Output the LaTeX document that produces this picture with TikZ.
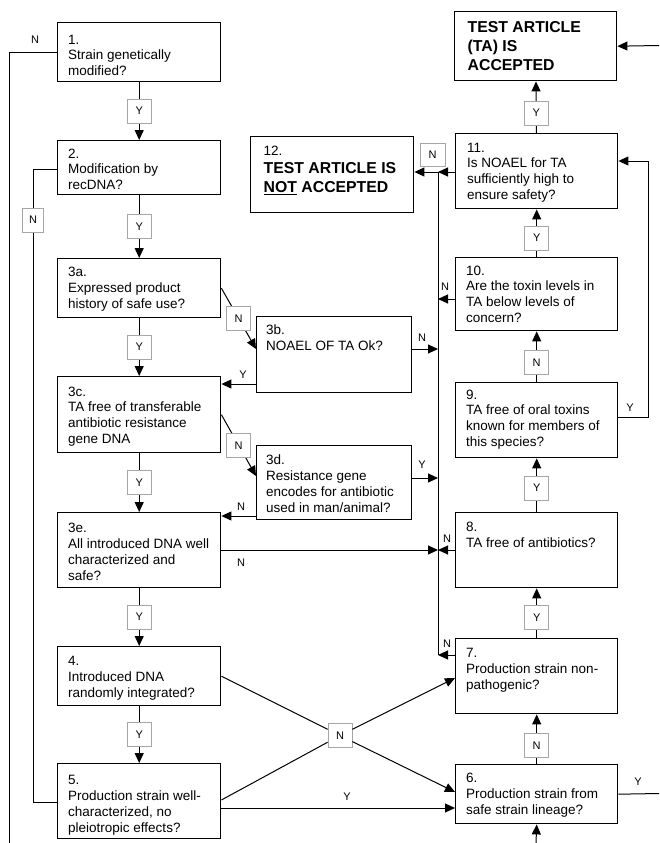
\documentclass[tikz,border=0pt]{standalone}
\usepackage{fontspec}
\setmainfont{Liberation Sans}
\usetikzlibrary{arrows.meta}
\newcommand\fst{\rule{0pt}{11pt}}
\newcommand\fsb{\rule{0pt}{13pt}}
\begin{document}
\begin{tikzpicture}[x=1pt,y=-1pt,
  bx/.style={draw, line width=1.4pt, inner sep=0, anchor=north west},
  tx/.style={anchor=north west, inner sep=0, align=left, font=\fontsize{13.5}{15.7}\selectfont},
  tb/.style={anchor=north west, inner sep=0, align=left, font=\bfseries\fontsize{15.8}{19}\selectfont},
  yn/.style={draw=gray!70, line width=0.7pt, fill=white, minimum width=24pt, minimum height=24pt, inner sep=0, font=\fontsize{11}{12}\selectfont},
  lbl/.style={inner sep=0, font=\fontsize{11}{12}\selectfont},
  ln/.style={line width=1pt},
  arr/.style={line width=1pt, -{Triangle[length=10pt,width=9pt]}},
]
\useasboundingbox (0,0) rectangle (659,843);

% boxes
\node[bx, minimum width=162pt, minimum height=69pt] (acc) at (454,11) {};
\node[bx, minimum width=162pt, minimum height=75pt] (b11) at (455,133) {};
\node[bx, minimum width=163pt, minimum height=76pt] (b12) at (250,136) {};
\node[bx, minimum width=162pt, minimum height=73pt] (b10) at (455,257) {};
\node[bx, minimum width=162pt, minimum height=75pt] (b9) at (455,382) {};
\node[bx, minimum width=162pt, minimum height=75pt] (b8) at (455,512) {};
\node[bx, minimum width=162pt, minimum height=75pt] (b7) at (455,638) {};
\node[bx, minimum width=162pt, minimum height=59pt] (b6) at (455,764) {};
\node[bx, minimum width=163pt, minimum height=59pt] (b1) at (57,22) {};
\node[bx, minimum width=163pt, minimum height=54pt] (b2) at (57,140) {};
\node[bx, minimum width=163pt, minimum height=59pt] (b3a) at (57,258) {};
\node[bx, minimum width=155pt, minimum height=76pt] (b3b) at (256,316) {};
\node[bx, minimum width=163pt, minimum height=76pt] (b3c) at (57,376) {};
\node[bx, minimum width=155pt, minimum height=74pt] (b3d) at (256,445) {};
\node[bx, minimum width=163pt, minimum height=75pt] (b3e) at (57,512) {};
\node[bx, minimum width=163pt, minimum height=59pt] (b4) at (57,646) {};
\node[bx, minimum width=163pt, minimum height=75pt] (b5) at (57,763) {};

% texts
\node[tb] (tacc) at ([shift={(13.5,8.3)}]acc.north west) {\fsb TEST ARTICLE\\(TA) IS\\ACCEPTED};
\node[tx] (t11) at ([shift={(12,8)}]b11.north west) {\fst 11.\\Is NOAEL for TA\\sufficiently high to\\ensure safety?};
\node[tx] (t12a) at ([shift={(13.5,8.4)}]b12.north west) {\fst 12.};
\node[tb] (t12b) at ([shift={(13.5,24)}]b12.north west) {\fsb TEST ARTICLE IS\\\underline{NOT} ACCEPTED};
\node[tx] (t10) at ([shift={(11,7)}]b10.north west) {\fst 10.\\Are the toxin levels in\\TA below levels of\\concern?};
\node[tx] (t9) at ([shift={(11,6)}]b9.north west) {\fst 9.\\TA free of oral toxins\\known for members of\\this species?};
\node[tx] (t8) at ([shift={(11,8.7)}]b8.north west) {\fst 8.\\TA free of antibiotics?};
\node[tx] (t7) at ([shift={(11,8.7)}]b7.north west) {\fst 7.\\Production strain non-\\pathogenic?};
\node[tx] (t6) at ([shift={(11,7.7)}]b6.north west) {\fst 6.\\Production strain from\\safe strain lineage?};
\node[tx] (t1) at ([shift={(11,11)}]b1.north west) {\fst 1.\\Strain genetically\\modified?};
\node[tx] (t2) at ([shift={(11,7)}]b2.north west) {\fst 2.\\Modification by\\recDNA?};
\node[tx] (t3a) at ([shift={(11,7.4)}]b3a.north west) {\fst 3a.\\Expressed product\\history of safe use?};
\node[tx] (t3b) at ([shift={(10,7.7)}]b3b.north west) {\fst 3b.\\NOAEL OF TA Ok?};
\node[tx] (t3c) at ([shift={(11,9)}]b3c.north west) {\fst 3c.\\TA free of transferable\\antibiotic resistance\\gene DNA};
\node[tx] (t3d) at ([shift={(10,8.7)}]b3d.north west) {\fst 3d.\\Resistance gene\\encodes for antibiotic\\used in man/animal?};
\node[tx] (t3e) at ([shift={(11,9.7)}]b3e.north west) {\fst 3e.\\All introduced DNA well\\characterized and\\safe?};
\node[tx] (t4) at ([shift={(11,8.7)}]b4.north west) {\fst 4.\\Introduced DNA\\randomly integrated?};
\node[tx] (t5) at ([shift={(11,10.7)}]b5.north west) {\fst 5.\\Production strain well-\\characterized, no\\pleiotropic effects?};

% left column
\draw[arr] (b1) -- node[yn] (y1) {Y} (b2);
\draw[arr] (b2) -- node[yn] (y2) {Y} (b3a);
\draw[arr] (b3a) -- node[yn] (y3a) {Y} (b3c);
\draw[arr] (b3c) -- node[yn] (y3c) {Y} (b3e);
\draw[arr] (b3e) -- node[yn] (y3e) {Y} (b4);
\draw[arr] (b4) -- node[yn] (y4) {Y} (b5);

% right column
\draw[arr] (b6) -- node[yn, pos=0.37] (n6) {N} (b7);
\draw[arr] (b7) -- node[yn, pos=0.41] (y7) {Y} (b8);
\draw[arr] (b8) -- node[yn, pos=0.45] (y8) {Y} (b9);
\draw[arr] (b9) -- node[yn, pos=0.38] (n9) {N} (b10);
\draw[arr] (b10) -- node[yn, pos=0.4] (y10) {Y} (b11);
\draw[arr] (b11) -- node[yn, pos=0.39] (y11) {Y} (acc);

% outer left lines
\coordinate (lb) at (9,843);
\draw[ln] (b1.west) -- (b1.west -| lb) -- (lb);
\node[lbl] (nl1) at (35,40) {N};
\draw[ln] (b2.west |- 0,169) -- (33,169) -- (33,802) -- (b5.west |- 0,802);
\node[yn, minimum width=21pt] (n2) at (33,220) {N};

% 3a/3b/3c/3d/3e branches
\draw[arr] (b3a.east) -- node[yn] (n3a) {N} (b3b.west |- 0,349);
\draw[arr] (b3b.west |- 0,384) -- (b3c.east |- 0,384);
\node[lbl] (ly3b) at (243,375) {Y};
\draw[arr] (b3c.east) -- node[yn] (n3c) {N} (b3d.west |- 0,476);
\draw[arr] (b3d.west |- 0,516) -- (b3e.east |- 0,516);
\node[lbl] (ln3d) at (241,507) {N};

% collector line to box 12
\coordinate (bus) at (438,172);
\draw[ln] (bus) -- (bus |- 0,655);
\draw[arr] (b11.west |- bus) -- (bus);
\draw[arr] (bus) -- (b12.east |- bus);
\node[yn, minimum width=25pt, minimum height=23pt] (n11) at (432.5,154.5) {N};
\draw[arr] (b3b.east |- 0,349) -- (bus |- 0,349);
\node[lbl] (ln3b) at (422,338) {N};
\draw[arr] (b3d.east |- 0,478) -- (bus |- 0,478);
\node[lbl] (ly3d) at (422,465) {Y};
\draw[arr] (b3e.east |- 0,550) -- (bus |- 0,550);
\node[lbl] (ln3e) at (241,563) {N};
\draw[arr] (b8.west |- 0,550) -- (bus |- 0,550);
\node[lbl] (ln8) at (447,539) {N};
\draw[arr] (b7.west |- 0,655) -- (bus |- 0,655);
\node[lbl] (ln7) at (447,644) {N};
\draw[arr] (b10.west |- 0,299) -- (bus |- 0,299);
\node[lbl] (ln10) at (445,287) {N};

% cross from 4 and 5
\node[yn] (nx) at (340,735.5) {N};
\draw[ln] (b4.east) -- (nx);
\draw[ln] (b5.east |- 0,800) -- (nx);
\draw[arr] (nx) -- (b7.west |- 0,678);
\draw[arr] (nx) -- (b6.west |- 0,792);
\draw[arr] (b5.east |- 0,808) -- (b6.west |- 0,808);
\node[lbl] (ly5) at (347,797) {Y};

% right side loop and edges
\draw[arr] (b9.east |- 0,417) -- (648,417) -- (648,161) -- (b11.east |- 0,161);
\node[lbl] (ly9) at (630,408) {Y};
\coordinate (rin) at (659,45.5);
\draw[arr] (rin) -- (acc.east);
\coordinate (rout) at (659,793.5);
\draw[ln] (b6.east) -- (rout);
\node[lbl] (ly6) at (638,782) {Y};
\coordinate (bin) at (536,843);
\draw[arr] (bin) -- (b6.south);
\end{tikzpicture}
\end{document}
